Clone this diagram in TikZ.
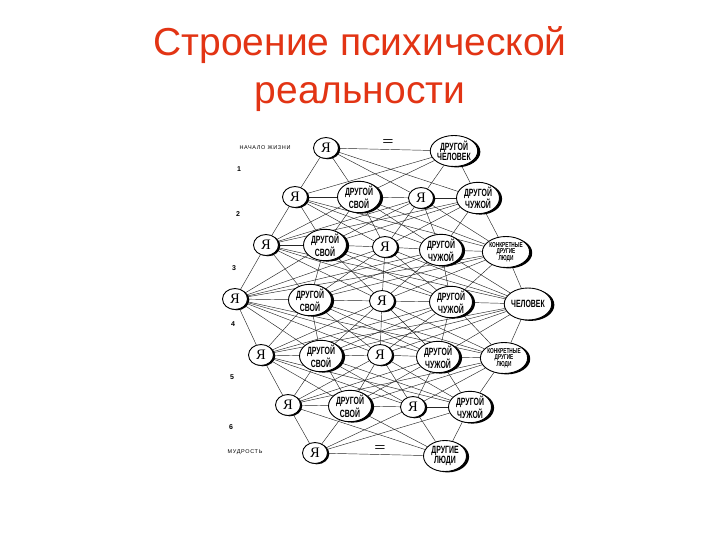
\documentclass[tikz,border=0pt]{standalone}
\usepackage{fontspec}
\setmainfont{Liberation Sans}
\newfontfamily\yafont{Liberation Serif}
\newfontfamily\narrowfont[FakeStretch=0.66]{Liberation Sans}
\newfontfamily\labfont[LetterSpace=12]{Liberation Sans}
\usetikzlibrary{shapes.geometric, shadows, backgrounds}
\definecolor{titlered}{RGB}{226,52,20}

\tikzset{
  ya/.style={ellipse, draw, line width=0.9pt, fill=white, minimum width=25pt, minimum height=21pt, inner sep=0pt,
    font=\yafont\fontsize{14.5}{14}\selectfont,
    drop shadow={shadow xshift=1.8pt, shadow yshift=-0.8pt, fill=black, opacity=1}},
  other/.style={ellipse, draw, line width=0.9pt, fill=white, minimum width=43pt, minimum height=31pt, inner sep=0pt, align=center,
    font=\narrowfont\bfseries\fontsize{10.5}{8.8}\selectfont,
    drop shadow={shadow xshift=2.6pt, shadow yshift=-0.9pt, fill=black, opacity=1}},
  people/.style={other, font=\narrowfont\bfseries\fontsize{7.2}{6.6}\selectfont},
  link/.style={black!85, line width=0.45pt},
  lab/.style={font=\labfont\fontsize{5.5}{6}\selectfont},
  num/.style={font=\bfseries\fontsize{7}{8}\selectfont},
  title/.style={text=titlered, font=\fontsize{39}{47}\selectfont, anchor=base},
}

\begin{document}
\begin{tikzpicture}[x=1pt, y=-1pt]
    \useasboundingbox (0,0) rectangle (720,540);

    % Title
    \node[title] (t1) at (360,56) {Строение психической};
    \node[title] (t2) at (360,104) {реальности};

    % Age scale
    \node[lab] (start) at (265,148) {НАЧАЛО ЖИЗНИ};
    \node[num] (s1) at (239,169) {1};
    \node[num] (s2) at (238,214) {2};
    \node[num] (s3) at (234,268) {3};
    \node[num] (s4) at (233,324) {4};
    \node[num] (s5) at (232,377) {5};
    \node[num] (s6) at (231,427) {6};
    \node[lab] (wise) at (245,452) {МУДРОСТЬ};

    % Row 0
    \node[ya] (r0-1) at (326,148) {Я};
    \node[other] (r0-2) at (454,151) {ДРУГОЙ\\ЧЕЛОВЕК};
    % Row 1
    \node[ya] (r1-1) at (295,197) {Я};
    \node[other] (r1-2) at (359,197) {ДРУГОЙ\\СВОЙ};
    \node[ya] (r1-3) at (421,198) {Я};
    \node[other] (r1-4) at (478,198) {ДРУГОЙ\\ЧУЖОЙ};
    % Row 2
    \node[ya] (r2-1) at (266,245) {Я};
    \node[other] (r2-2) at (325,245) {ДРУГОЙ\\СВОЙ};
    \node[ya] (r2-3) at (385,247) {Я};
    \node[other] (r2-4) at (441,250) {ДРУГОЙ\\ЧУЖОЙ};
    \node[people] (r2-5) at (506,252) {КОНКРЕТНЫЕ\\ДРУГИЕ\\ЛЮДИ};
    % Row 3
    \node[ya] (r3-1) at (235,299) {Я};
    \node[other] (r3-2) at (310,300) {ДРУГОЙ\\СВОЙ};
    \node[ya] (r3-3) at (382,301) {Я};
    \node[other] (r3-4) at (451,302) {ДРУГОЙ\\ЧУЖОЙ};
    \node[other, minimum width=38pt, minimum height=32pt] (r3-5) at (528,304) {ЧЕЛОВЕК};
    % Row 4
    \node[ya] (r4-1) at (261,355) {Я};
    \node[other] (r4-2) at (321,356) {ДРУГОЙ\\СВОЙ};
    \node[ya] (r4-3) at (380,355) {Я};
    \node[other] (r4-4) at (438,357) {ДРУГОЙ\\ЧУЖОЙ};
    \node[people] (r4-5) at (504,358) {КОНКРЕТНЫЕ\\ДРУГИЕ\\ЛЮДИ};
    % Row 5
    \node[ya] (r5-1) at (288,405) {Я};
    \node[other] (r5-2) at (350,406) {ДРУГОЙ\\СВОЙ};
    \node[ya] (r5-3) at (413,407) {Я};
    \node[other] (r5-4) at (470,407) {ДРУГОЙ\\ЧУЖОЙ};
    % Row 6
    \node[ya] (r6-1) at (315,453) {Я};
    \node[other] (r6-2) at (445,456) {ДРУГИЕ\\ЛЮДИ};

    \node[font=\fontsize{12}{12}\selectfont, xscale=1.6] (eq0) at (388,143) {=};
    \node[font=\fontsize{12}{12}\selectfont, xscale=1.6] (eq6) at (380,449) {=};

    \begin{scope}[on background layer]
    % links between neighbouring rows
    \foreach \r/\na/\s/\nb in {0/2/1/4, 1/4/2/5, 2/5/3/5, 3/5/4/5, 4/5/5/4, 5/4/6/2}
      \foreach \a in {1,...,\na}
        \foreach \b in {1,...,\nb}
          \draw[link] (r\r-\a) -- (r\s-\b);
    % links inside a row
    \foreach \r/\m in {0/1, 1/3, 2/4, 3/4, 4/4, 5/3, 6/1}
      \foreach \a in {1,...,\m} {
        \pgfmathtruncatemacro\b{\a+1}
        \draw[link] (r\r-\a) -- (r\r-\b);
      }
    \end{scope}
\end{tikzpicture}
\end{document}
